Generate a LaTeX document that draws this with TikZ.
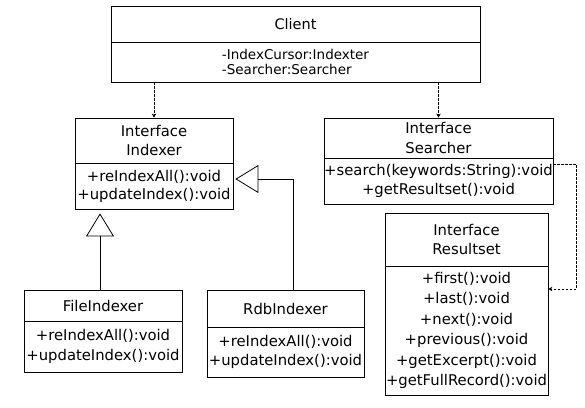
\documentclass[tikz,border=0pt]{standalone}
\usepackage{fontspec}
\setmainfont{DejaVu Sans}
\usetikzlibrary{arrows.meta}
\begin{document}
\begin{tikzpicture}[x=1pt,y=-1pt,
	part/.style={draw, line width=0.8pt, inner sep=0pt, align=center, font=\fontsize{14.8}{19.5}\selectfont},
	dep/.style={line width=0.7pt, dash pattern=on 2.5pt off 1.5pt, -{Stealth[length=4pt,width=4.5pt]}},
	gen/.style={line width=0.8pt, -{Triangle[open,length=23pt,width=28pt]}}]
	\useasboundingbox (0,0) rectangle (585,407);

	% client
	\node[part, minimum width=369pt, minimum height=36pt, font=\fontsize{14.5}{17}\selectfont] (clienth) at (295.5,24) {Client};
	\node[part, minimum width=369pt, minimum height=40pt, align=left, font=\fontsize{13.5}{15.5}\selectfont] (clientb) at (295.5,62) {-IndexCursor:Indexter\\-Searcher:Searcher};

	% interfaces
	\node[part, minimum width=158pt, minimum height=45pt] (idxh) at (154,140.5) {Interface\\Indexer};
	\node[part, minimum width=158pt, minimum height=46pt, font=\fontsize{14.8}{18}\selectfont] (idxb) at (154,186) {+reIndexAll():void\\+updateIndex():void};
	\node[part, minimum width=229pt, minimum height=40pt] (srchh) at (438.5,138) {Interface\\Searcher};
	\node[part, minimum width=229pt, minimum height=46pt] (srchb) at (438.5,181) {+search(keywords:String):void\\+getResultset():void};
	\node[part, minimum width=163pt, minimum height=53pt] (rsh) at (466.5,239.5) {Interface\\Resultset};
	\node[part, minimum width=163pt, minimum height=129pt, font=\fontsize{14.8}{20.5}\selectfont] (rsb) at (466.5,330.5) {+first():void\\+last():void\\+next():void\\+previous():void\\+getExcerpt():void\\+getFullRecord():void};

	% implementations
	\node[part, minimum width=158pt, minimum height=31pt] (filh) at (103,305.5) {FileIndexer};
	\node[part, minimum width=158pt, minimum height=51pt] (filb) at (103,346.5) {+reIndexAll():void\\+updateIndex():void};
	\node[part, minimum width=157pt, minimum height=37pt] (rdbh) at (285.5,308.5) {RdbIndexer};
	\node[part, minimum width=157pt, minimum height=50pt] (rdbb) at (285.5,352) {+reIndexAll():void\\+updateIndex():void};

	\draw[dep] (clientb.south -| idxh.north) -- (idxh.north);
	\draw[dep] (clientb.south -| srchh.north) -- (srchh.north);
	\draw[dep] ([yshift=17pt]srchb.east) -- ++(23,0) |- ([yshift=41.5pt]rsb.east);

	\draw[gen, shorten >=4pt] ([xshift=-3pt]filh.north) -- ([xshift=-3pt]filh.north |- idxb.south);
	\draw[gen, shorten >=2pt] ([xshift=7.5pt]rdbh.north) |- ([yshift=7pt]idxb.east);
\end{tikzpicture}
\end{document}
